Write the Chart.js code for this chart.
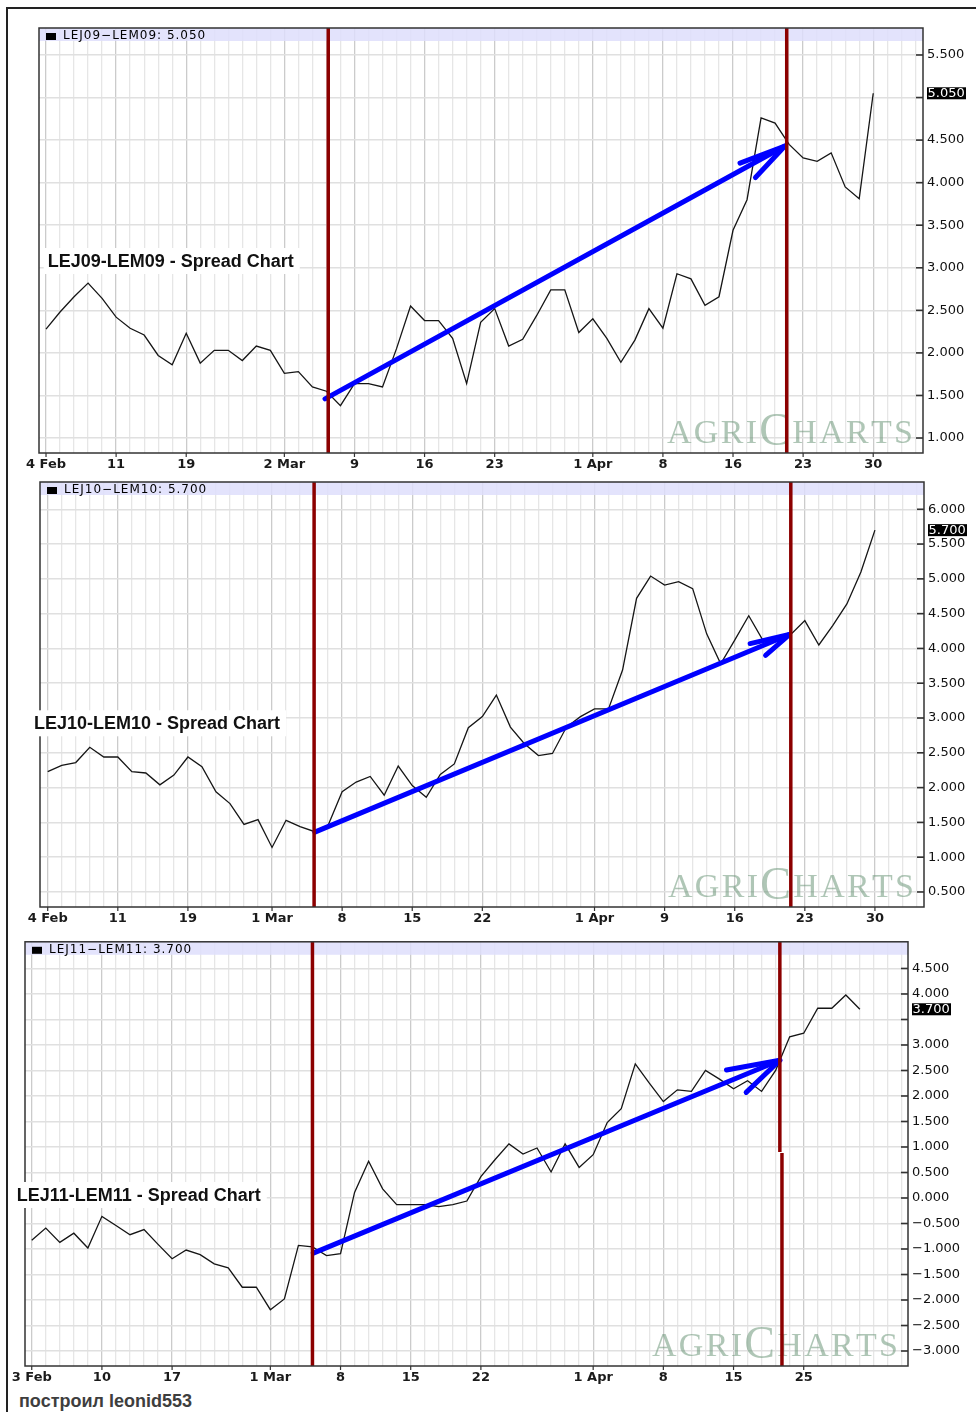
<!DOCTYPE html>
<html>
<head>
<meta charset="utf-8">
<script src="https://cdn.jsdelivr.net/npm/chart.js@4.4.0/dist/chart.umd.min.js"></script>
<style>
  html, body { margin: 0; padding: 0; background: #fff; overflow: hidden; }
  body { width: 976px; height: 1412px; position: relative; }
  #frame { position: absolute; left: 6px; top: 7px; width: 1000px; height: 1430px; border: 2px solid #222; }
  canvas { position: absolute; left: 0; }
  #p1 { top: 0; }
  #p2 { top: 470px; }
  #p3 { top: 930px; }
  #credit { position: absolute; left: 19px; top: 1391px; line-height: 20px; font: bold 18px "Liberation Sans", Arial, sans-serif; color: #3e3e3e; }
</style>
</head>
<body>
<div id="frame"></div>
<canvas id="p1" width="976" height="475"></canvas>
<canvas id="p2" width="976" height="460"></canvas>
<canvas id="p3" width="976" height="460"></canvas>
<div id="credit">построил leonid553</div>
<script>
// x = trading-day index from the first day shown

// LEJ09-LEM09, 4 Feb - 30 Apr 2009
const tickPos09 = [0, 5, 10, 17, 22, 27, 32, 39, 44, 49, 54, 59];
const tickText09 = ['4 Feb', '11', '19', '2 Mar', '9', '16', '23', '1 Apr', '8', '16', '23', '30'];
const spread09 = [
  2.28, 2.48, 2.66, 2.82, 2.64, 2.42, 2.29, 2.21, 1.97, 1.86,
  2.23, 1.88, 2.03, 2.03, 1.91, 2.08, 2.03, 1.76, 1.78, 1.60,
  1.55, 1.38, 1.64, 1.64, 1.60, 2.05, 2.55, 2.38, 2.38, 2.17,
  1.64, 2.36, 2.52, 2.08, 2.16, 2.44, 2.74, 2.74, 2.24, 2.40,
  2.17, 1.89, 2.15, 2.52, 2.29, 2.93, 2.87, 2.56, 2.66, 3.44,
  3.80, 4.76, 4.70, 4.45, 4.29, 4.25, 4.35, 3.95, 3.81, 5.05
];
const red09 = [[20.13, null, null], [52.83, null, null]];   // [x, from, to], null = plot edge
const arrow09 = [[19.9, 1.46], [52.7, 4.43]];
const head09 = [[49.5, 4.23], [52.7, 4.43], [50.6, 4.06]];

// LEJ10-LEM10, 4 Feb - 30 Apr 2010
const tickPos10 = [0, 5, 10, 16, 21, 26, 31, 39, 44, 49, 54, 59];
const tickText10 = ['4 Feb', '11', '19', '1 Mar', '8', '15', '22', '1 Apr', '9', '16', '23', '30'];
const spread10 = [
  2.23, 2.32, 2.36, 2.58, 2.44, 2.44, 2.23, 2.21, 2.04, 2.18,
  2.44, 2.30, 1.94, 1.77, 1.47, 1.54, 1.14, 1.53, 1.44, 1.37,
  1.46, 1.94, 2.08, 2.16, 1.89, 2.31, 2.03, 1.86, 2.19, 2.34,
  2.86, 3.02, 3.33, 2.87, 2.63, 2.46, 2.49, 2.87, 3.02, 3.13,
  3.13, 3.69, 4.72, 5.04, 4.91, 4.96, 4.86, 4.21, 3.78, 4.12,
  4.47, 4.12, 4.14, 4.20, 4.40, 4.05, 4.33, 4.64, 5.10, 5.70
];
const red10 = [[19.0, null, null], [53.0, null, null]];
const arrow10 = [[19.05, 1.36], [52.9, 4.20]];
const head10 = [[50.1, 4.07], [52.9, 4.20], [51.2, 3.90]];

// LEJ11-LEM11, 3 Feb - 29 Apr 2011
const tickPos11 = [0, 5, 10, 17, 22, 27, 32, 40, 45, 50, 55];
const tickText11 = ['3 Feb', '10', '17', '1 Mar', '8', '15', '22', '1 Apr', '8', '15', '25'];
const spread11 = [
  -0.83, -0.59, -0.87, -0.69, -0.98, -0.36, -0.54, -0.72, -0.62, -0.91,
  -1.19, -1.02, -1.11, -1.29, -1.37, -1.75, -1.75, -2.19, -1.98, -0.93,
  -0.96, -1.13, -1.09, 0.11, 0.72, 0.18, -0.13, -0.13, -0.13, -0.17,
  -0.13, -0.06, 0.42, 0.75, 1.06, 0.86, 0.98, 0.51, 1.06, 0.60,
  0.85, 1.48, 1.75, 2.63, 2.25, 1.89, 2.12, 2.09, 2.50, 2.33,
  2.14, 2.30, 2.09, 2.50, 3.16, 3.23, 3.72, 3.72, 3.98, 3.70
];
const red11 = [[20.0, null, null], [53.3, null, 0.9], [53.45, 0.88, null]];
const arrow11 = [[20.06, -1.08], [53.3, 2.70]];
const head11 = [[49.5, 2.51], [53.3, 2.70], [50.9, 2.07]];

const fmt = v => (v < 0 ? '\u2212' : '') + Math.abs(v).toFixed(3);
const pts = a => a.map(p => ({ x: p[0], y: p[1] }));

function drawWatermark(ctx, a) {
  const letters = [['A', 34], ['G', 34], ['R', 34], ['I', 34], ['C', 46], ['H', 34], ['A', 34], ['R', 34], ['T', 34], ['S', 34]];
  const x1 = a.right - 10, total = 246, base = a.bottom - 10;
  ctx.save();
  ctx.fillStyle = 'rgba(110,152,122,0.55)';
  ctx.textBaseline = 'alphabetic';
  let w = 0;
  letters.forEach(([c, s]) => { ctx.font = s + 'px "Liberation Serif"'; w += ctx.measureText(c).width; });
  const gap = (total - w) / (letters.length - 1);
  let x = x1 - total;
  letters.forEach(([c, s]) => {
    ctx.font = s + 'px "Liberation Serif"';
    ctx.fillText(c, x, base + (s > 34 ? 2 : 0));
    x += ctx.measureText(c).width + gap;
  });
  ctx.restore();
}

function buildPanel(id, o) {
  const last = o.values[o.values.length - 1];
  const hideNear = (o.yMax - o.yMin) * 12 / 425;
  const labelAt = {};
  o.tickPos.forEach((p, i) => { labelAt[p] = o.tickText[i]; });

  const datasets = [];
  o.red.forEach(r => datasets.push({
    data: [{ x: r[0], y: r[1] ?? o.yMax }, { x: r[0], y: r[2] ?? o.yMin }],
    borderColor: '#8c0000', borderWidth: 3.5, pointRadius: 0, order: 0
  }));
  datasets.push({ data: pts(o.arrow), borderColor: '#0000ff', borderWidth: 5, borderCapStyle: 'round', pointRadius: 0, order: 1 });
  datasets.push({ data: pts(o.head), borderColor: '#0000ff', borderWidth: 5, borderCapStyle: 'round', borderJoinStyle: 'round', pointRadius: 0, order: 1 });
  datasets.push({
    data: o.values.map((v, i) => ({ x: i, y: v })),
    borderColor: '#151515', borderWidth: 1.3, pointRadius: 0, tension: 0, order: 2
  });

  const decor = {
    id: 'decor',
    beforeDatasetsDraw(chart) {
      const ctx = chart.ctx, a = chart.chartArea;
      ctx.save();
      ctx.fillStyle = 'rgba(222,222,252,0.85)';
      ctx.fillRect(a.left, a.top, a.right - a.left, 13);
      ctx.fillStyle = '#000';
      ctx.fillRect(a.left + 7, a.top + 5, 10, 7);
      ctx.font = '12px "DejaVu Sans"';
      ctx.letterSpacing = '1px';
      ctx.textBaseline = 'middle';
      ctx.fillText(o.name.replace('-', '\u2212') + ': ' + fmt(last), a.left + 24, a.top + 8);
      ctx.restore();
      drawWatermark(ctx, a);
    },
    afterDraw(chart) {
      const ctx = chart.ctx, a = chart.chartArea;
      const ys = chart.scales.y, xs = chart.scales.x;
      ctx.save();
      // plot frame
      ctx.strokeStyle = '#333';
      ctx.lineWidth = 1.5;
      ctx.strokeRect(a.left, a.top, a.right - a.left, a.bottom - a.top);
      // inner tick marks on the price axis
      ctx.lineWidth = 1.6;
      ys.ticks.forEach(t => {
        const y = ys.getPixelForValue(t.value);
        ctx.beginPath(); ctx.moveTo(a.right - 7, y); ctx.lineTo(a.right, y); ctx.stroke();
      });
      ctx.lineWidth = 1.2;
      o.tickPos.forEach(p => {
        const x = xs.getPixelForValue(p);
        ctx.beginPath(); ctx.moveTo(x, a.bottom); ctx.lineTo(x, a.bottom + 4); ctx.stroke();
      });
      // last value box
      const yl = ys.getPixelForValue(last);
      ctx.fillStyle = '#000';
      ctx.fillRect(a.right + 4, yl - 6, 39, 12);
      ctx.fillStyle = '#fff';
      ctx.font = '13px "DejaVu Sans"';
      ctx.textBaseline = 'middle';
      ctx.fillText(fmt(last), a.right + 4.5, yl + 0.5);
      // chart title on a white box
      ctx.font = 'bold 18px "Liberation Sans"';
      const tw = ctx.measureText(o.name + ' - Spread Chart').width;
      ctx.fillStyle = '#fff';
      ctx.fillRect(o.titleX - 4, o.titleY - 13, tw + 10, 26);
      ctx.fillStyle = '#111';
      ctx.fillText(o.name + ' - Spread Chart', o.titleX, o.titleY + 1);
      ctx.restore();
    }
  };

  return new Chart(document.getElementById(id), {
    type: 'line',
    data: { datasets },
    options: {
      responsive: false,
      devicePixelRatio: 1,
      animation: false,
      layout: { padding: { left: o.left, top: o.top, right: 0, bottom: 0 } },
      plugins: { legend: { display: false }, tooltip: { enabled: false } },
      scales: {
        x: {
          type: 'linear', min: o.xMin, max: o.xMax,
          afterBuildTicks: s => { s.ticks = []; for (let i = 0; i <= 62; i++) s.ticks.push({ value: i }); },
          afterFit: s => { s.height = o.xh; },
          border: { display: false },
          grid: {
            drawTicks: false, lineWidth: 1.3,
            color: c => (c.tick && labelAt[c.tick.value] !== undefined) ? '#cbcbcb' : '#e6e6e6'
          },
          ticks: {
            autoSkip: false, maxRotation: 0, padding: 4, color: '#1a1a1a',
            font: { family: 'DejaVu Sans', size: 13, weight: 'bold' },
            callback: v => labelAt[v] ?? ''
          }
        },
        y: {
          type: 'linear', position: 'right', min: o.yMin, max: o.yMax,
          afterBuildTicks: s => {
            s.ticks = [];
            for (let v = Math.ceil(o.yMin * 2) / 2; v <= o.yMax - 0.05; v += 0.5) s.ticks.push({ value: Math.round(v * 2) / 2 });
          },
          afterFit: s => { s.width = o.yw; },
          border: { display: false },
          grid: { drawTicks: false, lineWidth: 1.5, color: '#e0e0e0' },
          ticks: {
            padding: 4, color: '#111',
            font: { family: 'DejaVu Sans', size: 13 },
            callback: v => Math.abs(v - last) < hideNear ? '' : fmt(v)
          }
        }
      }
    },
    plugins: [decor]
  });
}

buildPanel('p1', {
  name: 'LEJ09-LEM09', values: spread09, tickPos: tickPos09, tickText: tickText09,
  red: red09, arrow: arrow09, head: head09,
  xMin: -0.5, xMax: 62.55, yMin: 0.824, yMax: 5.817,
  left: 39, top: 28, yw: 53, xh: 22, titleX: 47.7, titleY: 261
});
buildPanel('p2', {
  name: 'LEJ10-LEM10', values: spread10, tickPos: tickPos10, tickText: tickText10,
  red: red10, arrow: arrow10, head: head10,
  xMin: -0.55, xMax: 62.5, yMin: 0.284, yMax: 6.392,
  left: 40, top: 12, yw: 52, xh: 23, titleX: 34, titleY: 253.3
});
buildPanel('p3', {
  name: 'LEJ11-LEM11', values: spread11, tickPos: tickPos11, tickText: tickText11,
  red: red11, arrow: arrow11, head: head11,
  xMin: -0.48, xMax: 62.43, yMin: -3.294, yMax: 5.023,
  left: 25, top: 11, yw: 68, xh: 24, titleX: 16.7, titleY: 265
});
</script>
</body>
</html>
